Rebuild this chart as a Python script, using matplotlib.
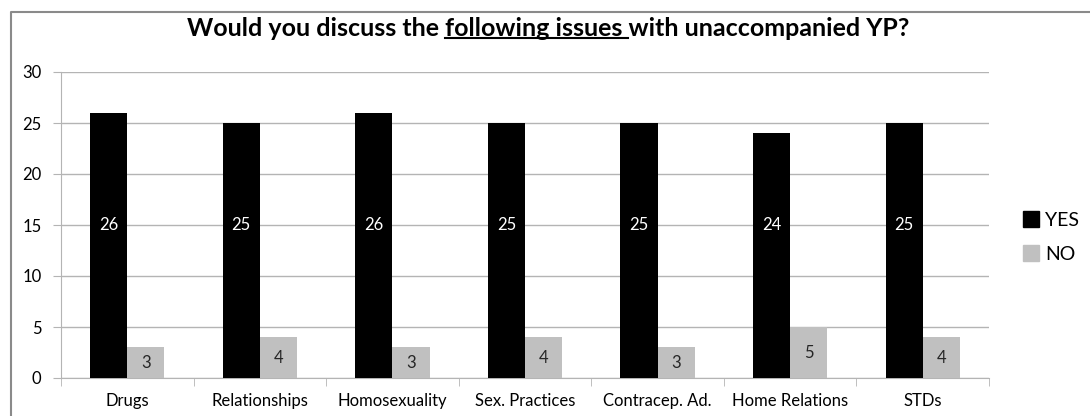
import numpy as np
import matplotlib
matplotlib.use('Agg')
import matplotlib.pyplot as plt
from matplotlib.patches import Patch
from matplotlib.lines import Line2D

#Data
categories = ['Drugs', 'Relationships', 'Homosexuality', 'Sex. Practices',
              'Contracep. Ad.', 'Home Relations', 'STDs']
yes_values = [26, 25, 26, 25, 25, 24, 25]
no_values = [3, 4, 3, 4, 3, 5, 4]

plt.rcParams['font.family'] = ['Lato', 'DejaVu Sans']

fig = plt.figure(figsize=(10.9, 4.16), dpi=100)
ax = fig.add_axes([61/1090, 1 - 378/416, (989 - 61)/1090, (378 - 72)/416])

x = np.arange(len(categories))
w = 0.28
grid_c = '#b4b4b4'

bars_yes = ax.bar(x, yes_values, width=-w, align='edge', color='black', zorder=3)
bars_no = ax.bar(x, no_values, width=w, align='edge', color='#c0c0c0', zorder=3)

#value labels
for b, v in zip(bars_yes, yes_values):
    ax.text(b.get_x() + b.get_width()/2, 15, str(v), color='white',
            ha='center', va='center', fontsize=12, zorder=4)
for b, v in zip(bars_no, no_values):
    ax.text(b.get_x() + b.get_width()/2, v/2, str(v), color='#262626',
            ha='center', va='center', fontsize=12, zorder=4)

ax.set_xlim(-0.5, len(categories) - 0.5)
ax.set_ylim(0, 30)
ax.set_yticks(range(0, 31, 5))
ax.yaxis.grid(True, color=grid_c, lw=1, zorder=0)
ax.set_xticks(x)
ax.set_xticklabels(categories, fontsize=12)
ax.set_xticks(np.arange(-0.5, len(categories)), minor=True)
ax.tick_params(axis='x', which='major', length=0, pad=11)
ax.tick_params(axis='x', which='minor', length=6, color=grid_c, direction='out')
ax.tick_params(axis='y', length=6, color=grid_c, labelsize=12, pad=8)

for s in ['top', 'right']:
    ax.spines[s].set_visible(False)
for s in ['left', 'bottom']:
    ax.spines[s].set_color(grid_c)

#legend
handles = [Patch(color='black'), Patch(color='#c0c0c0')]
fig.legend(handles, ['YES', 'NO'], loc='center left',
           bbox_to_anchor=(1005/1090, 1 - 237/416), frameon=False, fontsize=14,
           handlelength=0.85, handleheight=0.85, handletextpad=0.3, labelspacing=0.85)

#title with underlined part
part1 = 'Would you discuss the '
part2 = 'following issues '
part3 = 'with unaccompanied YP?'
tsize = 18
t = fig.text(548/1090, 1 - 29/416, part1 + part2 + part3, ha='center', va='center',
             fontsize=tsize, fontweight='bold')
fig.canvas.draw()
r = fig.canvas.get_renderer()
bb = t.get_window_extent(r)
def text_width(s):
    tmp = fig.text(0, 0, s, fontsize=tsize, fontweight='bold')
    wd = tmp.get_window_extent(r).width
    tmp.remove()
    return wd
w1 = text_width(part1 + 'x') - text_width('x')
w2 = text_width(part1 + part2 + 'x') - text_width('x')
uy = (bb.y0 + 3) / 416
fig.add_artist(Line2D([(bb.x0 + w1)/1090, (bb.x0 + w2)/1090], [uy, uy],
                      color='black', lw=1.5))

#outer frame
fig.add_artist(Line2D([11/1090, 11/1090, 1], [0, 1 - 12/416, 1 - 12/416],
                      color='#8a8a8a', lw=1.5))

plt.savefig('out.png', dpi=100)
